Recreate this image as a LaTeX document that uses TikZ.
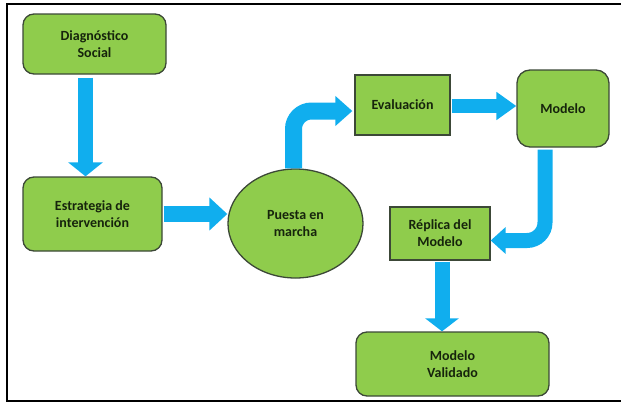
\documentclass[tikz,border=0pt]{standalone}
\usepackage{fontspec}
\setmainfont{Carlito}
\usetikzlibrary{arrows.meta,shapes.geometric}
\definecolor{boxgreen}{RGB}{143,204,76}
\definecolor{boxline}{RGB}{60,72,55}
\definecolor{arrblue}{RGB}{16,174,238}
\definecolor{txt}{RGB}{22,36,12}
\begin{document}
\begin{tikzpicture}[x=1pt,y=-1pt,
  box/.style={draw=boxline,line width=1.3pt,fill=boxgreen,text=txt,align=center,
    font=\bfseries\fontsize{14}{17}\selectfont,inner sep=0pt},
  rbox/.style={box,rounded corners=11pt},
  sbox/.style={box},
  bigarrow/.style={draw=arrblue,line width=15pt},
]
\useasboundingbox (0,0) rectangle (621,402);
\draw[line width=1.6pt,black] (621,4) -- (7,4) -- (7,401) -- (621,401);

\node[rbox,minimum width=143pt,minimum height=60pt] (diag) at (94.5,44) {Diagnóstico\\Social};
\node[rbox,minimum width=139pt,minimum height=74pt] (estr) at (92.5,214) {Estrategia de\\intervención};
\node[box,ellipse,minimum width=135pt,minimum height=109pt] (puesta) at (295.5,223.5) {Puesta en\\marcha};
\node[sbox,minimum width=95pt,minimum height=60pt] (eval) at (402.5,105) {Evaluación};
\node[rbox,rounded corners=13pt,minimum width=92pt,minimum height=77pt] (modelo) at (563,108.5) {Modelo};
\node[sbox,minimum width=100pt,minimum height=53pt] (replica) at (440,233.5) {Réplica del\\Modelo};
\node[rbox,minimum width=193pt,minimum height=64pt] (valid) at (452.5,364) {Modelo\\Validado};

\draw[bigarrow,-{Triangle[width=34pt,length=14pt]}]
  ([xshift=-9pt,yshift=-3pt]diag.south) -- ([xshift=-7pt]estr.north);
\draw[bigarrow,line width=16pt,-{Triangle[width=32pt,length=18pt]}]
  ([xshift=1pt]estr.east) -- (estr.east -| puesta.west);
\draw[bigarrow,line width=17pt,rounded corners=18pt,-{Triangle[width=29pt,length=17pt]}]
  ([xshift=-2pt]puesta.north) |- ([xshift=-2pt,yshift=-6pt]eval.west);
\draw[bigarrow,line width=14pt,-{Triangle[width=27pt,length=20pt]}]
  ([xshift=1pt,yshift=-1pt]eval.east) -- ([yshift=-1pt]eval.east -| modelo.west);
\draw[bigarrow,line width=15pt,rounded corners=18pt,-{Triangle[width=26pt,length=15pt]}]
  ([xshift=-18pt,yshift=-2pt]modelo.south) |- ([yshift=-7pt]replica.east);
\draw[bigarrow,-{Triangle[width=33pt,length=13pt]}]
  ([xshift=2pt,yshift=-1pt]replica.south) -- ([xshift=2pt]replica.south |- valid.north);
\end{tikzpicture}
\end{document}
